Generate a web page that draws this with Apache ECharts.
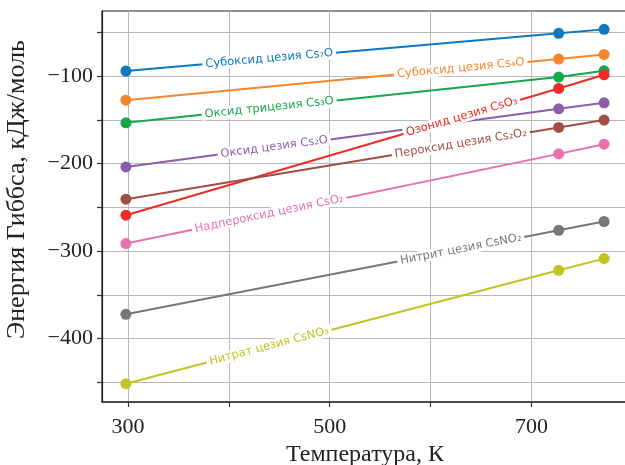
<!DOCTYPE html>
<html>
<head>
<meta charset="utf-8">
<script src="https://cdn.jsdelivr.net/npm/echarts@6/dist/echarts.min.js"></script>
<style>html,body{margin:0;padding:0;background:#fff}#c{width:625px;height:465px}</style>
</head>
<body>
<div id="c"></div>
<script>
// ---- data ----
var temperatures = [298, 727, 772];
var names = [
  'Субоксид цезия Cs₇O',
  'Субоксид цезия Cs₄O',
  'Оксид трицезия Cs₃O',
  'Оксид цезия Cs₂O',
  'Озонид цезия CsO₃',
  'Пероксид цезия Cs₂O₂',
  'Надпероксид цезия CsO₂',
  'Нитрит цезия CsNO₂',
  'Нитрат цезия CsNO₃'
];
var cs7o   = [-94.3, -51.1, -46.6];
var cs4o   = [-127.5, -80.5, -75.2];
var cs3o   = [-153.4, -101.1, -93.9];
var cs2o   = [-203.8, -137.4, -130.5];
var cso3   = [-259.0, -114.1, -98.5];
var cs2o2  = [-240.7, -158.7, -150.3];
var cso2   = [-291.4, -188.9, -177.8];
var csno2  = [-372.3, -276.2, -266.2];
var csno3  = [-451.6, -322.0, -308.6];
var seriesValues = [cs7o, cs4o, cs3o, cs2o, cso3, cs2o2, cso2, csno2, csno3];
var labelX = [440, 630, 440, 445, 631, 630, 440, 630, 440];
var xTicks = [300, 400, 500, 600, 700];
var xTickLabels = [300, 500, 700];
var yTicks = [-450, -400, -350, -300, -250, -200, -150, -100, -50];
var yTickLabels = [-400, -300, -200, -100];
var colors = ['#0c78be', '#f7862a', '#14a84a', '#8c5dab', '#ee2b24', '#a04f45', '#e771ae', '#76777b', '#c1c424'];

var chart = echarts.init(document.getElementById('c'), null, {renderer: 'canvas'});

function buildSeries(angles) {
  return seriesValues.map(function (vals, i) {
    var data = temperatures.map(function (t, k) { return [t, vals[k]]; });
    var lx = labelX[i];
    var ly = vals[0] + (vals[1] - vals[0]) * (lx - temperatures[0]) / (temperatures[1] - temperatures[0]);
    return {
      name: names[i],
      type: 'line',
      data: data,
      symbol: 'circle',
      symbolSize: 11,
      color: colors[i],
      lineStyle: {width: 2, color: colors[i]},
      itemStyle: {color: colors[i]},
      z: 3,
      animation: false,
      markPoint: {
        z: 10,
        symbol: 'rect',
        symbolSize: 0,
        silent: true,
        animation: false,
        data: [{coord: [lx, ly]}],
        label: {
          show: true,
          position: 'inside',
          formatter: names[i],
          color: colors[i],
          fontFamily: 'DejaVu Sans',
          fontSize: 11.5,
          backgroundColor: '#ffffff',
          padding: [0, 3, 0, 3],
          rotate: angles ? angles[i] : 0,
          align: 'center',
          verticalAlign: 'middle'
        }
      }
    };
  });
}

var axisFont = {fontFamily: 'Liberation Serif', fontSize: 22, color: '#222'};

var option = {
  animation: false,
  backgroundColor: '#fff',
  grid: {left: 102, top: 11, right: -3, bottom: 63, outerBoundsMode: 'none', containLabel: false, show: true, borderColor: '#222', borderWidth: 1.2},
  xAxis: {
    type: 'value',
    min: 274.3,
    max: 795.7,
    name: 'Температура, К',
    nameLocation: 'middle',
    nameGap: 37,
    nameTextStyle: {fontFamily: 'Liberation Serif', fontSize: 24, color: '#222'},
    axisLine: {show: true, lineStyle: {color: '#333', width: 1.5}},
    axisTick: {show: true, inside: false, length: 5, customValues: xTicks, lineStyle: {color: '#333', width: 1.2}},
    axisLabel: Object.assign({customValues: xTickLabels, margin: 14}, axisFont),
    splitLine: {show: true, lineStyle: {color: '#b8b8b8', width: 1}}
  },
  yAxis: {
    type: 'value',
    min: -472.5,
    max: -25.6,
    name: 'Энергия Гиббса, кДж/моль',
    nameLocation: 'middle',
    nameGap: 72,
    nameTextStyle: {fontFamily: 'Liberation Serif', fontSize: 26, color: '#222', padding: [0, 0, 0, 34]},
    axisLine: {show: true, lineStyle: {color: '#222', width: 1.2}},
    axisTick: {show: true, inside: false, length: 5, customValues: yTicks, lineStyle: {color: '#333', width: 1.2}},
    axisLabel: Object.assign({customValues: yTickLabels, margin: 9, formatter: function (v) { return String(v).replace('-', '\u2212'); }}, axisFont),
    splitLine: {show: true, lineStyle: {color: '#b8b8b8', width: 1}}
  },
  series: buildSeries(null)
};
chart.setOption(option);

// compute label rotation in pixel space along each line
var angles = seriesValues.map(function (vals) {
  var p0 = chart.convertToPixel({gridIndex: 0}, [temperatures[0], vals[0]]);
  var p1 = chart.convertToPixel({gridIndex: 0}, [temperatures[1], vals[1]]);
  return Math.atan2(p0[1] - p1[1], p1[0] - p0[0]) * 180 / Math.PI;
});
chart.setOption({series: buildSeries(angles)});
</script>
</body>
</html>
